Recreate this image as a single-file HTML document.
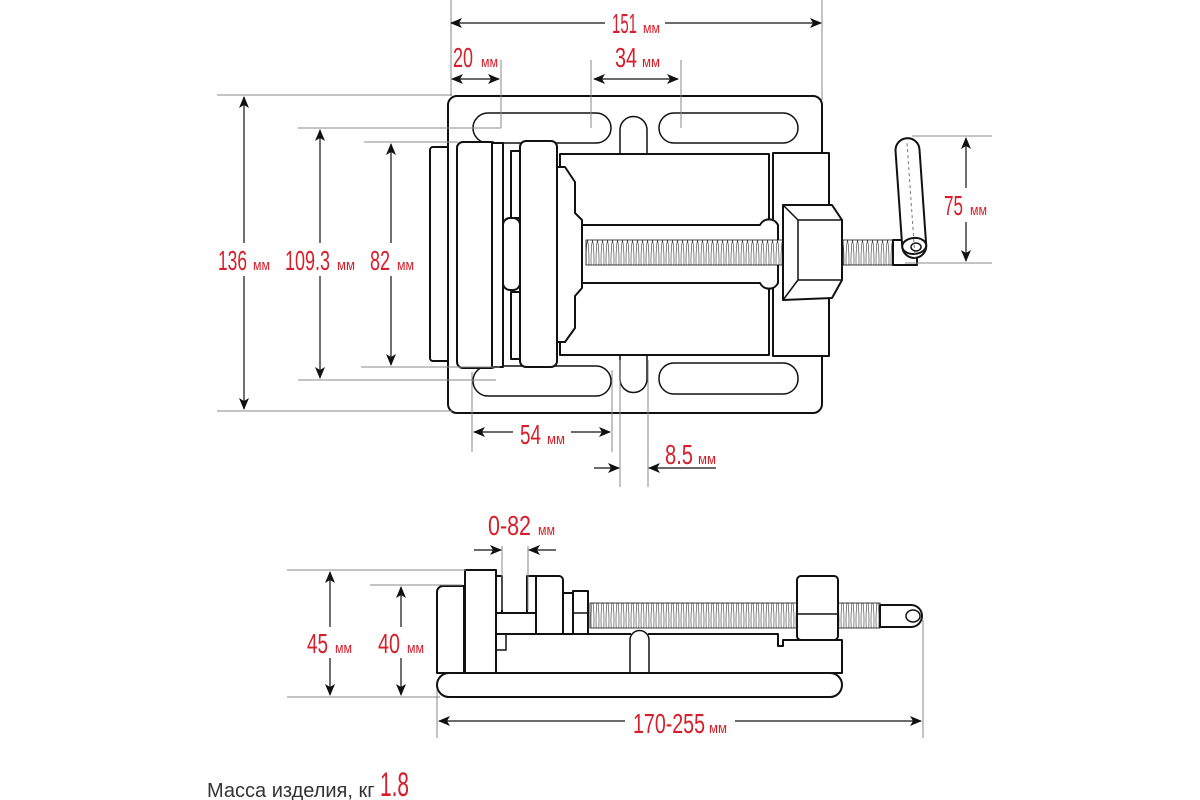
<!DOCTYPE html>
<html><head><meta charset="utf-8"><style>
html,body{margin:0;padding:0;background:#fff;}
svg{display:block}
.o{fill:#fff;stroke:#111;stroke-width:2;stroke-linejoin:round}
.t{fill:none;stroke:#111;stroke-width:1.5}
.d{fill:none;stroke:#888;stroke-width:1}
.a{fill:none;stroke:#111;stroke-width:1.2}
.n{font-family:"Liberation Sans",sans-serif;fill:#d61f2b;font-size:28px}
.m{font-family:"Liberation Sans",sans-serif;fill:#d61f2b;font-size:15px}
</style></head><body>
<svg width="1200" height="800" viewBox="0 0 1200 800" xmlns="http://www.w3.org/2000/svg">
<defs>
<marker id="ar" viewBox="0 0 12 10" refX="11" refY="5" markerWidth="12" markerHeight="10" markerUnits="userSpaceOnUse" orient="auto-start-reverse"><path d="M0,0 L12,5 L0,10 L3,5 Z" fill="#111"/></marker>
<pattern id="th" x="0" y="0" width="5" height="40" patternUnits="userSpaceOnUse"><rect width="5" height="40" fill="#fff"/><path d="M2.5,0 C0.5,10 0.5,30 2.5,40 M2.5,0 C4.5,10 4.5,30 2.5,40" fill="none" stroke="#333" stroke-width="0.6"/></pattern>
</defs>

<!-- ===== TOP VIEW ===== -->
<rect class="o" x="430" y="147" width="20" height="214" rx="3"/>
<rect class="o" x="448" y="96" width="374" height="317" rx="9"/>
<rect class="t" x="473" y="113" width="138" height="30" rx="15"/>
<rect class="t" x="659" y="113" width="139" height="30" rx="15"/>
<path class="t" d="M620,153 V130 A13.5,13.5 0 0 1 647,130 V153"/>
<rect class="t" x="473" y="366" width="138" height="30" rx="15"/>
<rect class="t" x="659" y="363" width="139" height="31" rx="15"/>
<path class="t" d="M620,356 V379 A13.5,13.5 0 0 0 647,379 V356"/>
<rect class="o" x="560" y="154" width="209" height="201"/>
<rect class="o" x="773" y="153" width="56" height="203"/>
<rect class="o" x="457" y="142" width="40" height="226" rx="6"/>
<rect class="o" x="492" y="143" width="11" height="224"/>
<rect class="o" x="511" y="151" width="9" height="67"/>
<rect class="o" x="511" y="292" width="9" height="67"/>
<rect class="o" x="503" y="218" width="17" height="72" rx="7"/>
<path class="o" d="M557,167 L565,167 L575,182 L575,213 L582,220 L582,288 L575,296 L575,328 L565,342 L557,342 Z"/>
<rect class="o" x="520" y="141" width="37" height="226" rx="6"/>
<path class="o" d="M582,225 H760 A10,10 0 0 1 778,225 V283 A10,10 0 0 1 760,283 H582 Z"/>
<rect x="586" y="240" width="214" height="25" fill="url(#th)" stroke="#111" stroke-width="0.8"/>
<path class="o" d="M783,205 L832,205 L842,220 L842,280 L832,298 L783,300 Z"/>
<path class="t" d="M798,220 H842 V280 H798 Z M783,205 L798,220 M783,300 L798,280"/>
<rect x="843" y="240" width="50" height="25" fill="url(#th)" stroke="#111" stroke-width="0.8"/>
<rect class="o" x="893" y="240" width="24" height="25"/>
<g transform="rotate(-4 912 200)">
<rect class="o" x="899" y="138" width="24" height="120" rx="12"/>
<ellipse class="o" cx="911" cy="246" rx="12" ry="8"/>
<line x1="911" y1="143" x2="911" y2="258" stroke="#777" stroke-width="1" stroke-dasharray="3,3"/>
</g>
<ellipse class="t" cx="916" cy="247" rx="5" ry="4"/>

<!-- top dims -->
<line class="d" x1="451" y1="0" x2="451" y2="96"/>
<line class="d" x1="822" y1="0" x2="822" y2="100"/>
<line class="a" x1="451" y1="23" x2="605" y2="23" marker-start="url(#ar)"/>
<line class="a" x1="665" y1="23" x2="821" y2="23" marker-end="url(#ar)"/>
<text class="n" x="612" y="33" textLength="25" lengthAdjust="spacingAndGlyphs">151</text><text class="m" x="643" y="33" textLength="17" lengthAdjust="spacingAndGlyphs">мм</text>

<line class="d" x1="501" y1="60" x2="501" y2="128"/>
<line class="d" x1="591" y1="60" x2="591" y2="128"/>
<line class="d" x1="681" y1="60" x2="681" y2="128"/>
<line class="a" x1="452" y1="79" x2="499" y2="79" marker-start="url(#ar)" marker-end="url(#ar)"/>
<line class="a" x1="594" y1="79" x2="678" y2="79" marker-start="url(#ar)" marker-end="url(#ar)"/>
<text class="n" x="453" y="67" textLength="20" lengthAdjust="spacingAndGlyphs">20</text><text class="m" x="481" y="67" textLength="17" lengthAdjust="spacingAndGlyphs">мм</text>
<text class="n" x="615" y="67" textLength="22" lengthAdjust="spacingAndGlyphs">34</text><text class="m" x="642" y="67" textLength="18" lengthAdjust="spacingAndGlyphs">мм</text>

<!-- left dims -->
<line class="d" x1="217" y1="95" x2="452" y2="95"/>
<line class="d" x1="217" y1="411" x2="452" y2="411"/>
<line class="d" x1="298" y1="128" x2="501" y2="128"/>
<line class="d" x1="298" y1="380" x2="496" y2="380"/>
<line class="d" x1="364" y1="142" x2="458" y2="142"/>
<line class="d" x1="361" y1="367" x2="500" y2="367"/>
<line class="a" x1="244" y1="97" x2="244" y2="243" marker-start="url(#ar)"/>
<line class="a" x1="244" y1="276" x2="244" y2="409" marker-end="url(#ar)"/>
<line class="a" x1="320" y1="130" x2="320" y2="243" marker-start="url(#ar)"/>
<line class="a" x1="320" y1="276" x2="320" y2="378" marker-end="url(#ar)"/>
<line class="a" x1="391" y1="144" x2="391" y2="243" marker-start="url(#ar)"/>
<line class="a" x1="391" y1="276" x2="391" y2="365" marker-end="url(#ar)"/>
<text class="n" x="218" y="270" textLength="29" lengthAdjust="spacingAndGlyphs">136</text><text class="m" x="253" y="270" textLength="17" lengthAdjust="spacingAndGlyphs">мм</text>
<text class="n" x="285" y="270" textLength="45" lengthAdjust="spacingAndGlyphs">109.3</text><text class="m" x="337" y="270" textLength="18" lengthAdjust="spacingAndGlyphs">мм</text>
<text class="n" x="370" y="270" textLength="20" lengthAdjust="spacingAndGlyphs">82</text><text class="m" x="397" y="270" textLength="17" lengthAdjust="spacingAndGlyphs">мм</text>

<!-- 75 -->
<line class="d" x1="912" y1="136" x2="992" y2="136"/>
<line class="d" x1="905" y1="263" x2="992" y2="263"/>
<line class="a" x1="966" y1="138" x2="966" y2="188" marker-start="url(#ar)"/>
<line class="a" x1="966" y1="222" x2="966" y2="261" marker-end="url(#ar)"/>
<text class="n" x="944" y="215" textLength="19" lengthAdjust="spacingAndGlyphs">75</text><text class="m" x="970" y="215" textLength="17" lengthAdjust="spacingAndGlyphs">мм</text>

<!-- 54 / 8.5 -->
<line class="d" x1="472" y1="372" x2="472" y2="452"/>
<line class="d" x1="612" y1="370" x2="612" y2="452"/>
<line class="d" x1="620" y1="360" x2="620" y2="487"/>
<line class="d" x1="648" y1="360" x2="648" y2="487"/>
<line class="a" x1="474" y1="432" x2="513" y2="432" marker-start="url(#ar)"/>
<line class="a" x1="571" y1="432" x2="610" y2="432" marker-end="url(#ar)"/>
<text class="n" x="520" y="444" textLength="21" lengthAdjust="spacingAndGlyphs">54</text><text class="m" x="547" y="444" textLength="18" lengthAdjust="spacingAndGlyphs">мм</text>
<line class="a" x1="594" y1="468" x2="619" y2="468" marker-end="url(#ar)"/>
<line class="a" x1="716" y1="468" x2="649" y2="468" marker-end="url(#ar)"/>
<text class="n" x="665" y="464" textLength="28" lengthAdjust="spacingAndGlyphs">8.5</text><text class="m" x="698" y="464" textLength="18" lengthAdjust="spacingAndGlyphs">мм</text>

<!-- ===== SIDE VIEW ===== -->
<rect class="o" x="437" y="673" width="405" height="24" rx="12"/>
<path class="o" d="M437,673 V592 A6,6 0 0 1 443,586 H464 V673 Z"/>
<path class="o" d="M496,634 H778 V646 H783 V640 H842 V673 H496 Z"/>
<rect x="631" y="632" width="17" height="5" fill="#fff"/>
<path class="t" d="M630,673 V640 A9.5,9.5 0 0 1 649,640 V673" stroke-width="2"/>
<rect class="o" x="465" y="570" width="31" height="103"/>
<path class="o" d="M496,634 V613 H536 V634 Z"/>
<path class="t" d="M496,634 V650 H506 V634"/>
<rect class="o" x="496" y="576" width="6" height="37"/>
<rect class="o" x="527" y="576" width="9" height="37"/>
<path class="o" d="M536,576 H559 A4,4 0 0 1 563,580 V634 H536 Z"/>
<rect class="o" x="563" y="593" width="10" height="41"/>
<rect class="o" x="573" y="591" width="15" height="43"/>
<line class="t" x1="573" y1="613" x2="588" y2="613"/>
<rect x="590" y="603" width="207" height="25" fill="url(#th)" stroke="#111" stroke-width="0.8"/>
<rect x="838" y="603" width="42" height="25" fill="url(#th)" stroke="#111" stroke-width="0.8"/>
<path class="o" d="M880,605 H911 A11,11 0 0 1 911,627 H880 Z"/>
<ellipse class="t" cx="913" cy="616" rx="7" ry="6"/>
<rect class="o" x="797" y="576" width="41" height="64" rx="4"/>
<line class="t" x1="797" y1="614" x2="838" y2="614"/>

<!-- side dims -->
<line class="d" x1="502" y1="546" x2="502" y2="610"/>
<line class="d" x1="528" y1="546" x2="528" y2="610"/>
<line class="a" x1="474" y1="550" x2="501" y2="550" marker-end="url(#ar)"/>
<line class="a" x1="556" y1="550" x2="529" y2="550" marker-end="url(#ar)"/>
<text class="n" x="488" y="535" textLength="43" lengthAdjust="spacingAndGlyphs">0-82</text><text class="m" x="538" y="535" textLength="17" lengthAdjust="spacingAndGlyphs">мм</text>

<line class="d" x1="287" y1="570" x2="466" y2="570"/>
<line class="d" x1="287" y1="697" x2="440" y2="697"/>
<line class="d" x1="370" y1="585" x2="462" y2="585"/>
<line class="a" x1="330" y1="572" x2="330" y2="627" marker-start="url(#ar)"/>
<line class="a" x1="330" y1="658" x2="330" y2="695" marker-end="url(#ar)"/>
<line class="a" x1="401" y1="587" x2="401" y2="627" marker-start="url(#ar)"/>
<line class="a" x1="401" y1="658" x2="401" y2="695" marker-end="url(#ar)"/>
<text class="n" x="307" y="653" textLength="21" lengthAdjust="spacingAndGlyphs">45</text><text class="m" x="335" y="653" textLength="17" lengthAdjust="spacingAndGlyphs">мм</text>
<text class="n" x="378" y="653" textLength="22" lengthAdjust="spacingAndGlyphs">40</text><text class="m" x="407" y="653" textLength="17" lengthAdjust="spacingAndGlyphs">мм</text>

<line class="d" x1="437" y1="690" x2="437" y2="738"/>
<line class="d" x1="923" y1="620" x2="923" y2="738"/>
<line class="a" x1="439" y1="721" x2="625" y2="721" marker-start="url(#ar)"/>
<line class="a" x1="735" y1="721" x2="921" y2="721" marker-end="url(#ar)"/>
<text class="n" x="633" y="733" textLength="72" lengthAdjust="spacingAndGlyphs">170-255</text><text class="m" x="709" y="733" textLength="18" lengthAdjust="spacingAndGlyphs">мм</text>

<text x="207" y="797" font-family="Liberation Sans, sans-serif" font-size="20" fill="#333">Масса изделия, кг</text>
<text x="380" y="796" font-family="Liberation Sans, sans-serif" font-size="34" fill="#d61f2b" textLength="29" lengthAdjust="spacingAndGlyphs">1.8</text>
</svg>
</body></html>
